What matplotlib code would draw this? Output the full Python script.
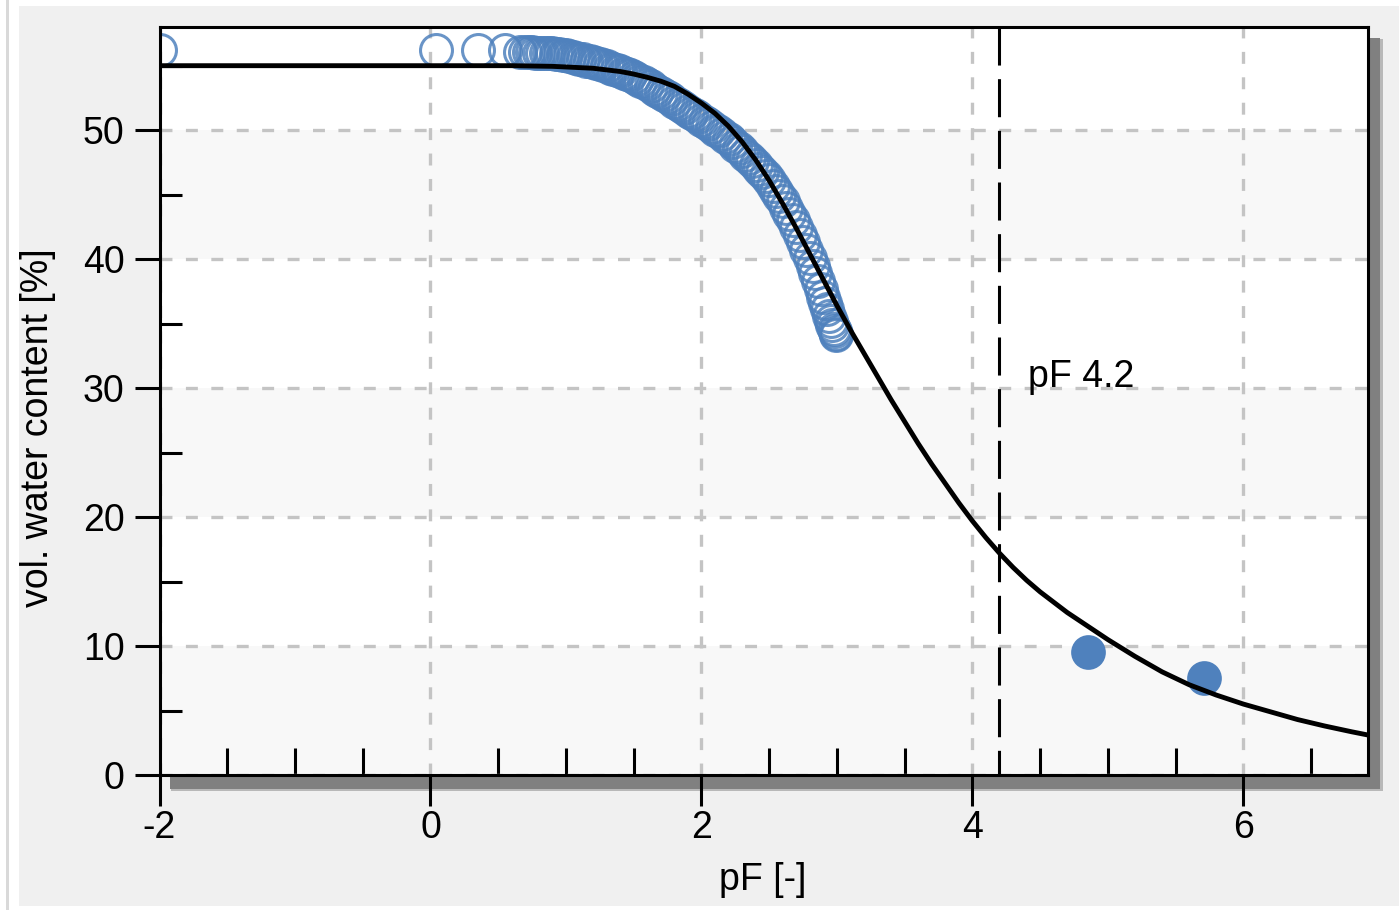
"""
Water retention curve (pF vs. volumetric water content)
"""

import matplotlib
matplotlib.use('Agg')
import matplotlib.pyplot as plt
from matplotlib.patches import Rectangle
from matplotlib.ticker import MultipleLocator

# measured points near saturation (open circles)
wet_pf = [-2.0, 0.04, 0.35, 0.55, 0.66]
wet_theta = [56.2, 56.2, 56.2, 56.2, 56.1]

# dense lab series (open circles), read along the ribbon
lab_pf = [0.700, 0.725, 0.750, 0.775, 0.800, 0.825, 0.850, 0.875, 0.900, 0.925,
          0.950, 0.975, 1.000, 1.025, 1.050, 1.075, 1.100, 1.125, 1.150, 1.175,
          1.200, 1.225, 1.250, 1.275, 1.300, 1.325, 1.350, 1.375, 1.400, 1.425,
          1.450, 1.475, 1.500, 1.525, 1.550, 1.575, 1.600, 1.625, 1.650, 1.675,
          1.700, 1.725, 1.750, 1.775, 1.800, 1.825, 1.850, 1.875, 1.900, 1.925,
          1.950, 1.975, 2.000, 2.025, 2.050, 2.075, 2.100, 2.125, 2.150, 2.175,
          2.200, 2.225, 2.250, 2.275, 2.300, 2.325, 2.350, 2.375, 2.400, 2.425,
          2.450, 2.475, 2.500, 2.525, 2.550, 2.575, 2.600, 2.625, 2.650, 2.675,
          2.700, 2.725, 2.750, 2.775, 2.800, 2.820, 2.840, 2.860, 2.880, 2.900,
          2.915, 2.930, 2.945, 2.955, 2.965, 2.975, 2.985, 2.990, 2.995]
lab_theta = [56.1, 56.1, 56.1, 56.0, 56.0, 56.0, 56.0, 56.0, 55.95, 55.9,
             55.9, 55.85, 55.8, 55.75, 55.7, 55.6, 55.55, 55.5, 55.4, 55.35,
             55.3, 55.2, 55.15, 55.05, 54.95, 54.85, 54.75, 54.65, 54.55, 54.45,
             54.35, 54.25, 54.1, 54.0, 53.85, 53.7, 53.55, 53.4, 53.2, 53.05,
             52.9, 52.7, 52.55, 52.4, 52.2, 52.05, 51.9, 51.7, 51.5, 51.35,
             51.2, 51.0, 50.8, 50.6, 50.45, 50.25, 50.05, 49.9, 49.7, 49.5,
             49.3, 49.1, 48.8, 48.6, 48.35, 48.1, 47.85, 47.6, 47.3, 47.0,
             46.75, 46.45, 46.1, 45.7, 45.3, 44.9, 44.5, 44.0, 43.5, 43.0,
             42.5, 41.9, 41.3, 40.7, 40.1, 39.5, 38.9, 38.3, 37.7, 37.1,
             36.6, 36.1, 35.6, 35.2, 34.9, 34.6, 34.4, 34.2, 34.1]

# filled points (dry range)
dry_pf = [4.85, 5.71]
dry_theta = [9.5, 7.5]

# fitted curve
curve_pf = [-2.0, 0.6, 0.9, 1.2, 1.4, 1.5, 1.6, 1.7, 1.8, 1.9,
            2.0, 2.1, 2.2, 2.3, 2.4, 2.5, 2.6, 2.7, 2.8, 2.9,
            3.0, 3.1, 3.2, 3.3, 3.4, 3.5, 3.6, 3.7, 3.8, 3.9,
            4.0, 4.1, 4.2, 4.3, 4.4, 4.5, 4.6, 4.7, 4.8, 4.9,
            5.0, 5.2, 5.4, 5.6, 5.8, 6.0, 6.2, 6.4, 6.6, 6.8, 6.92]
curve_theta = [55.0, 55.0, 54.95, 54.8, 54.55, 54.35, 54.1, 53.8, 53.4, 52.8,
               52.1, 51.3, 50.3, 49.1, 47.7, 46.1, 44.3, 42.4, 40.4, 38.4,
               36.4, 34.5, 32.7, 30.9, 29.1, 27.4, 25.7, 24.1, 22.6, 21.1,
               19.7, 18.4, 17.2, 16.1, 15.1, 14.2, 13.4, 12.6, 11.9, 11.2,
               10.5, 9.2, 8.0, 7.0, 6.2, 5.5, 4.9, 4.3, 3.8, 3.35, 3.1]

x_ticks = [-2, 0, 2, 4, 6]
y_ticks = [0, 10, 20, 30, 40, 50]
pf_mark = 4.2

W, H = 1399, 910
BLUE = '#4f81bd'


def fx(px):
    return px / W


def fy(py):
    return 1 - py / H


def fig_rect(fig, x0, y0, x1, y1, color, z):
    """Rectangle in pixel coords (top-left origin)"""
    fig.patches.append(Rectangle((fx(x0), fy(y1)), fx(x1) - fx(x0), fy(y0) - fy(y1),
                                 transform=fig.transFigure, color=color, lw=0, zorder=z))


plt.rcParams['font.family'] = ['Liberation Sans', 'DejaVu Sans']
plt.rcParams['axes.unicode_minus'] = False
plt.rcParams['lines.scale_dashes'] = False

fig = plt.figure(figsize=(W / 100, H / 100), dpi=100, facecolor='white')

# window background and frame shadow
fig_rect(fig, 19, 6, W, 906, '#f0f0f0', -4)
fig_rect(fig, 6, 0, 9, H, '#d9d9d9', -4)
fig_rect(fig, 171, 39, 1383, 791, '#b8b8b8', -3)
fig_rect(fig, 170, 38, 1380, 789, '#808080', -2)

ax = fig.add_axes([fx(159.5), fy(775), fx(1368) - fx(159.5), fy(27) - fy(775)])
ax.set_facecolor('white')

# alternating bands
for lo in (0, 20, 40):
    ax.axhspan(lo, lo + 10, color='#f8f8f8', lw=0, zorder=0)

ax.grid(True, which='major', color='#c4c4c4', lw=2.4, linestyle=(0, (8.6, 9.7)))
ax.set_axisbelow(True)

# pF 4.2 marker
ax.plot([pf_mark, pf_mark], [58, 0], color='black', lw=2.2,
        linestyle=(0, (27.4, 9.8)), zorder=1.5)
ax.text(4.41, 30.1, 'pF 4.2', fontsize=27, ha='left', va='baseline')

ax.plot(wet_pf + lab_pf, wet_theta + lab_theta, 'o', ms=23, mfc='none',
        mec=BLUE, mew=2.2, alpha=0.85, zorder=2)
ax.plot(dry_pf, dry_theta, 'o', ms=25, color=BLUE, mew=0, zorder=2)
ax.plot(curve_pf, curve_theta, color='black', lw=3.5, zorder=3,
        solid_joinstyle='round')

ax.set_xlim(-2, 6.92)
ax.set_ylim(0, 58)
ax.set_xticks(x_ticks)
ax.set_yticks(y_ticks)
ax.xaxis.set_minor_locator(MultipleLocator(0.5))
ax.yaxis.set_minor_locator(MultipleLocator(5))

ax.tick_params(axis='x', which='major', direction='out', length=22, width=2.2,
               pad=3, labelsize=27)
ax.tick_params(axis='y', which='major', direction='out', length=18, width=2.2,
               pad=7, labelsize=27)
ax.tick_params(axis='x', which='minor', direction='in', length=19.4, width=2.2)
ax.tick_params(axis='y', which='minor', direction='in', length=16, width=2.2)

for sp in ax.spines.values():
    sp.set_linewidth(2.2)
    sp.set_color('black')

fig.text(fx(763), fy(890), 'pF [-]', ha='center', va='baseline', fontsize=27)
fig.text(fx(38), fy(428), 'vol. water content [%]', rotation=90,
         ha='center', va='center', fontsize=27)

fig.savefig('out.png', dpi=100, facecolor=fig.get_facecolor())
